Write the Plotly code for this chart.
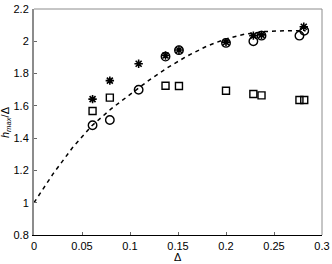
import plotly.graph_objects as go

# dashed reference curve
curve_x = [0, 0.02, 0.04, 0.06, 0.08, 0.10, 0.12, 0.14, 0.16, 0.18, 0.20, 0.22, 0.24, 0.26, 0.283]
curve_y = [1.00, 1.18, 1.34, 1.475, 1.58, 1.67, 1.76, 1.84, 1.91, 1.97, 2.015, 2.045, 2.06, 2.065, 2.065]

# asterisks
star_x = [0.061, 0.079, 0.109, 0.137, 0.151, 0.200, 0.2285, 0.237, 0.281]
star_y = [1.642, 1.756, 1.861, 1.912, 1.946, 1.995, 2.035, 2.040, 2.090]

# open circles
circ_x = [0.061, 0.079, 0.109, 0.137, 0.151, 0.200, 0.2285, 0.237, 0.2765, 0.2815]
circ_y = [1.480, 1.512, 1.700, 1.905, 1.945, 1.990, 2.000, 2.035, 2.035, 2.065]

# open squares
sq_x = [0.061, 0.079, 0.137, 0.151, 0.200, 0.2285, 0.237, 0.2765, 0.2815]
sq_y = [1.568, 1.651, 1.725, 1.723, 1.694, 1.673, 1.665, 1.636, 1.636]

x_ticks = [0, 0.05, 0.1, 0.15, 0.2, 0.25, 0.3]
x_labels = ["0", "0.05", "0.1", "0.15", "0.2", "0.25", "0.3"]
y_ticks = [0.8, 1.0, 1.2, 1.4, 1.6, 1.8, 2.0, 2.2]
y_labels = ["0.8", "1", "1.2", "1.4", "1.6", "1.8", "2", "2.2"]

fig = go.Figure()
fig.add_trace(go.Scatter(x=curve_x, y=curve_y, mode="lines",
                         line=dict(color="black", width=1.5, dash="4px,4px")))
fig.add_trace(go.Scatter(x=sq_x, y=sq_y, mode="markers",
                         marker=dict(symbol="square-open", size=7, color="black",
                                     line=dict(width=1.4))))
fig.add_trace(go.Scatter(x=circ_x, y=circ_y, mode="markers",
                         marker=dict(symbol="circle-open", size=8.5, color="black",
                                     line=dict(width=1.4))))
fig.add_trace(go.Scatter(x=star_x, y=star_y, mode="markers",
                         marker=dict(symbol="asterisk-open", size=7, color="black",
                                     line=dict(width=1.6, color="black"))))

fig.update_layout(
    width=332, height=264,
    margin=dict(l=34, r=10, t=9, b=29),
    paper_bgcolor="white", plot_bgcolor="white",
    showlegend=False,
    font=dict(family="Liberation Sans, Arial, sans-serif", size=11, color="black"),
    xaxis=dict(range=[0, 0.3], tickvals=x_ticks, ticktext=x_labels, automargin=False,
               showgrid=False, zeroline=False, showline=True, linecolor="black",
               linewidth=1, ticks="inside", ticklen=3, tickcolor="#666", ticklabelstandoff=1),
    yaxis=dict(range=[0.8, 2.2], tickvals=y_ticks, ticktext=y_labels, automargin=False,
               showgrid=False, zeroline=False, showline=True, linecolor="#8c8c8c",
               linewidth=2, ticks="inside", ticklen=3, tickcolor="#666", ticklabelstandoff=1),
    xaxis2=dict(range=[0, 0.3], overlaying="x", side="top", tickvals=x_ticks,
                showticklabels=False, showgrid=False, zeroline=False, automargin=False,
                ticks="inside", ticklen=3, tickcolor="#666"),
    yaxis2=dict(range=[0.8, 2.2], overlaying="y", side="right", tickvals=y_ticks,
                showticklabels=False, showgrid=False, zeroline=False, automargin=False,
                ticks="inside", ticklen=3, tickcolor="#666"),
    shapes=[
        dict(type="line", xref="paper", yref="paper", x0=0, x1=1, y0=1, y1=1,
             line=dict(color="#8c8c8c", width=1)),
        dict(type="line", xref="paper", yref="paper", x0=1, x1=1, y0=0, y1=1,
             line=dict(color="#8c8c8c", width=1)),
    ],
    annotations=[
        # axis titles placed by hand so they sit where the original has them
        dict(text="Δ", xref="paper", yref="paper", x=0.5, y=-0.097,
             xanchor="center", yanchor="middle", showarrow=False, font=dict(size=11)),
        dict(text="<i>h</i><sub><i>max</i></sub>/Δ", xref="paper", yref="paper",
             x=-0.097, y=0.5, textangle=-90, xanchor="center", yanchor="middle",
             showarrow=False, font=dict(size=11)),
    ],
)

# the page's default body margin shifts the figure; drop it
fig.write_html("out.html", config={"displayModeBar": False},
               post_script="document.body.style.margin='0px';")
